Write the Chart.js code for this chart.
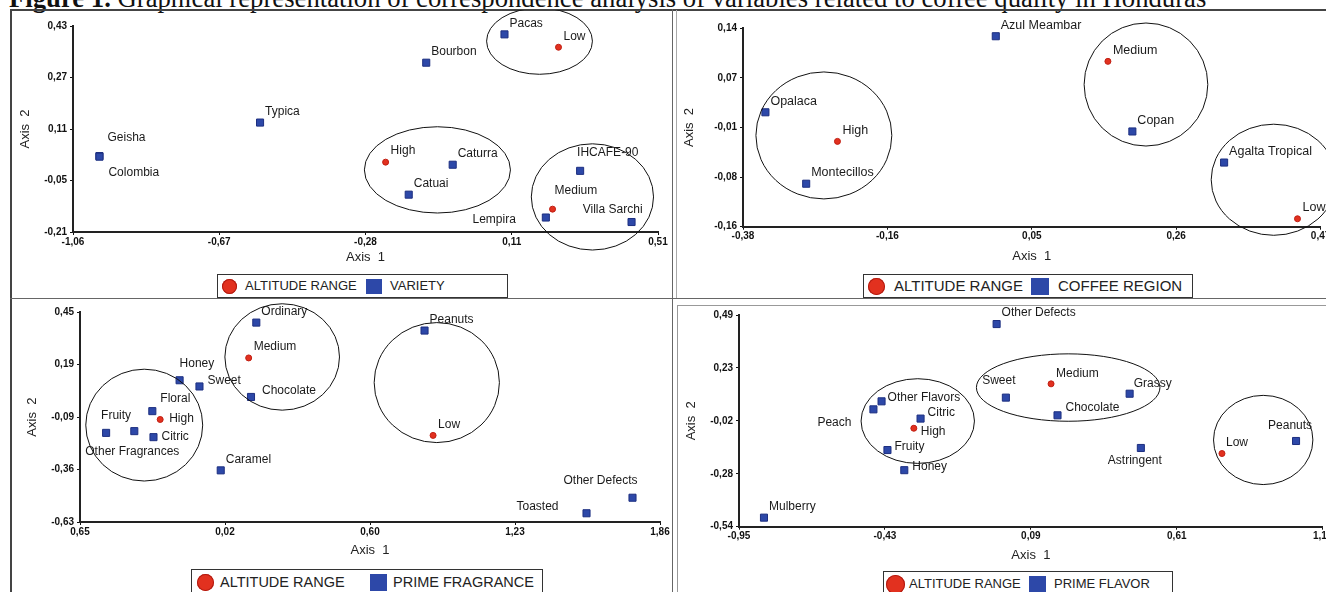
<!DOCTYPE html>
<html>
<head>
<meta charset="utf-8">
<title>Correspondence analysis - coffee quality in Honduras</title>
<script src="https://cdn.jsdelivr.net/npm/chart.js@4.4.1/dist/chart.umd.min.js"></script>
<style>
  html, body { margin: 0; padding: 0; width: 1326px; height: 592px; overflow: hidden; background: #fff; }
  body { position: relative; font-family: "Liberation Sans", Arial, sans-serif; }
  .title { position: absolute; left: 9px; top: -15px; font: 26.7px/26.7px "Liberation Serif", "Times New Roman", serif; white-space: nowrap; color: #111; }
  .line { position: absolute; }
  .panel { position: absolute; }
  .legend { position: absolute; border: 1px solid #333; background: #fff; box-sizing: border-box; color: #222; }
  .legend span { position: absolute; white-space: nowrap; }
</style>
</head>
<body>
<div class="title"><b>Figure 1.</b> Graphical representation of correspondence analysis of variables related to coffee quality in Honduras</div>
<script>
// ---- data ----

// Panel 1: altitude range x variety
const p1XTicks = ['-1,06', '-0,67', '-0,28', '0,11', '0,51'];
const p1YTicks = ['-0,21', '-0,05', '0,11', '0,27', '0,43'];
const p1AltNames = ['High', 'Medium', 'Low'];
const p1AltX = [-0.221, 0.227, 0.243];
const p1AltY = [0.007, -0.139, 0.364];
const p1VarNames = ['Geisha', 'Colombia', 'Typica', 'Bourbon', 'Pacas', 'Caturra', 'Catuai', 'IHCAFE-90', 'Lempira', 'Villa Sarchi'];
const p1VarX = [-0.989, -0.989, -0.558, -0.112, 0.098, -0.041, -0.159, 0.301, 0.209, 0.439];
const p1VarY = [0.026, 0.024, 0.130, 0.316, 0.404, -0.001, -0.094, -0.020, -0.165, -0.179];
const p1EllX = [0.192, -0.082, 0.334];
const p1EllY = [0.383, -0.017, -0.101];
const p1EllRx = [0.142, 0.196, 0.164];
const p1EllRy = [0.103, 0.134, 0.165];

// Panel 2: altitude range x coffee region
const p2XTicks = ['-0,38', '-0,16', '0,05', '0,26', '0,47'];
const p2YTicks = ['-0,16', '-0,08', '-0,01', '0,07', '0,14'];
const p2AltNames = ['High', 'Medium', 'Low'];
const p2AltX = [-0.241, 0.157, 0.436];
const p2AltY = [-0.031, 0.090, -0.148];
const p2RegNames = ['Azul Meambar', 'Opalaca', 'Montecillos', 'Copan', 'Agalta Tropical'];
const p2RegX = [-0.008, -0.347, -0.287, 0.193, 0.328];
const p2RegY = [0.128, 0.013, -0.095, -0.016, -0.063];
const p2EllX = [-0.261, 0.213, 0.401];
const p2EllY = [-0.022, 0.055, -0.089];
const p2EllRx = [0.100, 0.091, 0.092];
const p2EllRy = [0.096, 0.093, 0.084];

// Panel 3: altitude range x prime fragrance
const p3XTicks = ['0,65', '0,02', '0,60', '1,23', '1,86'];
const p3YTicks = ['-0,63', '-0,36', '-0,09', '0,19', '0,45'];
const p3AltNames = ['High', 'Medium', 'Low'];
const p3AltX = [-0.303, 0.080, 0.878];
const p3AltY = [-0.102, 0.215, -0.184];
const p3FraNames = ['Ordinary', 'Chocolate', 'Peanuts', 'Honey', 'Sweet', 'Floral', 'Citric', 'Fruity', 'Other Fragrances', 'Caramel', 'Other Defects', 'Toasted'];
const p3FraX = [0.113, 0.090, 0.841, -0.219, -0.133, -0.337, -0.332, -0.537, -0.415, -0.041, 1.741, 1.542];
const p3FraY = [0.397, 0.014, 0.356, 0.100, 0.068, -0.059, -0.193, -0.171, -0.162, -0.364, -0.505, -0.585];
const p3EllX = [-0.372, 0.225, 0.894];
const p3EllY = [-0.131, 0.220, 0.088];
const p3EllRx = [0.253, 0.248, 0.271];
const p3EllRy = [0.288, 0.274, 0.309];

// Panel 4: altitude range x prime flavor
const p4XTicks = ['-0,95', '-0,43', '0,09', '0,61', '1,13'];
const p4YTicks = ['-0,54', '-0,28', '-0,02', '0,23', '0,49'];
const p4AltNames = ['High', 'Medium', 'Low'];
const p4AltX = [-0.327, 0.162, 0.771];
const p4AltY = [-0.061, 0.155, -0.184];
const p4FlaNames = ['Other Defects', 'Sweet', 'Grassy', 'Chocolate', 'Astringent', 'Peanuts', 'Other Flavors', 'Peach', 'Citric', 'Fruity', 'Honey', 'Mulberry'];
const p4FlaX = [-0.032, 0.001, 0.442, 0.185, 0.482, 1.035, -0.442, -0.471, -0.303, -0.421, -0.361, -0.861];
const p4FlaY = [0.446, 0.088, 0.107, 0.002, -0.157, -0.123, 0.070, 0.031, -0.014, -0.167, -0.265, -0.496];
const p4EllX = [-0.313, 0.223, 0.918];
const p4EllY = [-0.026, 0.137, -0.118];
const p4EllRx = [0.202, 0.327, 0.177];
const p4EllRy = [0.206, 0.164, 0.217];

// ---- styling ----
const FONT = '"Liberation Sans", Arial, sans-serif';
const RED = '#e2311f';
const BLUE = '#2d48a8';

// label placement: [dx, dy, align] in px from the point
const p1Labels = {
  'Geisha': [8, -18], 'Colombia': [9, 16], 'Low': [5, -11], 'High': [5, -11],
  'IHCAFE-90': [-3, -18], 'Medium': [2, -18], 'Lempira': [-30, 2, 'right'], 'Villa Sarchi': [11, -12, 'right']
};
const p2Labels = { 'High': [5, -10.5] };
const p3Labels = {
  'Chocolate': [11, -6], 'Honey': [0, -17], 'Sweet': [8, -6], 'Floral': [8, -12], 'High': [9, -1],
  'Citric': [8, 0], 'Fruity': [-5, -17], 'Other Fragrances': [-2, 21, 'center'],
  'Other Defects': [5, -17, 'right'], 'Toasted': [-28, -7, 'right']
};
const p4Labels = {
  'Sweet': [-7, -17, 'center'], 'Grassy': [4, -10], 'Chocolate': [8, -8], 'Astringent': [-6, 13, 'center'],
  'Low': [4, -11], 'Peanuts': [-6, -15, 'center'], 'Other Flavors': [6, -4], 'Peach': [-22, 13, 'right'],
  'Citric': [7, -6], 'High': [7, 3], 'Fruity': [7, -3], 'Honey': [8, -3], 'Medium': [5, -10]
};

// frame lines of the figure: x, y, w, h, colour
const frame = [
  [10, 9, 1316, 1.5, '#444'], [10, 9, 1.5, 583, '#444'],
  [10, 297.5, 1316, 1.5, '#666'], [671.5, 9, 1.5, 583, '#666'],
  [676, 10, 1, 288, '#aaa'], [677, 304.5, 649, 1, '#999'], [677, 304.5, 1, 288, '#999']
];
frame.forEach(f => {
  const d = document.createElement('div');
  d.className = 'line';
  d.style.cssText = `left:${f[0]}px;top:${f[1]}px;width:${f[2]}px;height:${f[3]}px;background:${f[4]}`;
  document.body.appendChild(d);
});

function ellipses(cx, cy, rx, ry) {
  return {
    id: 'ellipses',
    afterDatasetsDraw(chart) {
      const { ctx, scales: { x, y } } = chart;
      ctx.save();
      ctx.strokeStyle = '#111';
      ctx.lineWidth = 1;
      for (let i = 0; i < cx.length; i++) {
        const px = x.getPixelForValue(cx[i]);
        const py = y.getPixelForValue(cy[i]);
        const w = Math.abs(x.getPixelForValue(cx[i] + rx[i]) - px);
        const h = Math.abs(y.getPixelForValue(cy[i] + ry[i]) - py);
        ctx.beginPath();
        ctx.ellipse(px, py, w, h, 0, 0, Math.PI * 2);
        ctx.stroke();
      }
      ctx.restore();
    }
  };
}

function pointLabels(size, offsets) {
  return {
    id: 'pointLabels',
    afterDatasetsDraw(chart) {
      const ctx = chart.ctx;
      ctx.save();
      ctx.font = size + 'px ' + FONT;
      ctx.fillStyle = '#1a1a1a';
      ctx.textBaseline = 'middle';
      chart.data.datasets.forEach((ds, di) => {
        chart.getDatasetMeta(di).data.forEach((pt, i) => {
          const name = ds.names[i];
          const o = offsets[name] || [5, -11];
          ctx.textAlign = o[2] || 'left';
          ctx.fillText(name, pt.x + o[0], pt.y + o[1]);
        });
      });
      ctx.restore();
    }
  };
}

function fixedTicks(labels) {
  return scale => {
    const step = (scale.max - scale.min) / (labels.length - 1);
    scale.ticks = labels.map((_, i) => ({ value: scale.min + i * step }));
  };
}

function makeLegend(l, panelName) {
  const box = document.createElement('div');
  box.className = 'legend';
  box.style.cssText = `left:${l.box[0]}px;top:${l.box[1]}px;width:${l.box[2]}px;height:${l.box[3]}px;font-size:${l.font}px`;
  const cy = l.box[3] / 2 - 1;
  box.innerHTML =
    `<span style="left:${l.dot[0]}px;top:${cy - l.dot[1] / 2}px;width:${l.dot[1]}px;height:${l.dot[1]}px;border-radius:50%;background:${RED};box-shadow:inset 0 0 0 1px #b01a10"></span>` +
    `<span style="left:${l.t1}px;top:${cy - l.font * 0.58}px">ALTITUDE RANGE</span>` +
    `<span style="left:${l.sq[0]}px;top:${cy - l.sq[2] / 2}px;width:${l.sq[1]}px;height:${l.sq[2]}px;background:${BLUE}"></span>` +
    `<span style="left:${l.t2}px;top:${cy - l.font * 0.58}px">${panelName}</span>`;
  document.body.appendChild(box);
}

function makePanel(p) {
  const [cl, ct, cw, ch] = p.box;
  const [al, at, ar, ab] = p.area;
  const wrap = document.createElement('div');
  wrap.className = 'panel';
  wrap.style.cssText = `left:${cl}px;top:${ct}px;width:${cw}px;height:${ch}px`;
  const cv = document.createElement('canvas');
  cv.width = cw;
  cv.height = ch;
  wrap.appendChild(cv);
  document.body.appendChild(wrap);

  const lh = 13 * 1.2;
  const tickFont = { family: FONT, size: 10, weight: 'bold' };
  const titleFont = { family: FONT, size: 13, lineHeight: 1.2 };

  new Chart(cv, {
    type: 'scatter',
    data: {
      datasets: [
        {
          names: p.altNames,
          data: p.altX.map((v, i) => ({ x: v, y: p.altY[i] })),
          pointStyle: 'circle', pointRadius: 3, backgroundColor: RED, borderColor: '#c01e12', borderWidth: 1, clip: false
        },
        {
          names: p.catNames,
          data: p.catX.map((v, i) => ({ x: v, y: p.catY[i] })),
          pointStyle: 'rect', pointRadius: 5, backgroundColor: BLUE, borderColor: '#1d2f80', borderWidth: 1, clip: false
        }
      ]
    },
    options: {
      responsive: false,
      animation: false,
      events: [],
      layout: { padding: { left: 0, top: at - ct, right: cl + cw - ar, bottom: 0 } },
      plugins: { legend: { display: false }, tooltip: { enabled: false } },
      scales: {
        x: {
          type: 'linear', min: p.xRange[0], max: p.xRange[1],
          afterBuildTicks: fixedTicks(p.xTicks),
          afterFit: s => { s.height = ct + ch - ab; },
          ticks: { callback: (v, i) => p.xTicks[i], font: tickFont, color: '#111', padding: 1, maxRotation: 0, autoSkip: false },
          grid: { drawOnChartArea: false, drawTicks: true, tickLength: 3, color: '#111', lineWidth: 1 },
          border: { color: '#222', width: 2 },
          title: { display: true, text: 'Axis  1', font: titleFont, color: '#222',
                   padding: { top: 0, bottom: ct + ch - p.xTitleY - lh / 2 } }
        },
        y: {
          type: 'linear', min: p.yRange[0], max: p.yRange[1],
          afterBuildTicks: fixedTicks(p.yTicks),
          afterFit: s => { s.width = al - cl; },
          ticks: { callback: (v, i) => p.yTicks[i], font: tickFont, color: '#111', padding: 3, autoSkip: false },
          grid: { drawOnChartArea: false, drawTicks: true, tickLength: 3, color: '#111', lineWidth: 1 },
          border: { color: '#222', width: 2 },
          title: { display: true, text: 'Axis  2', font: titleFont, color: '#222',
                   padding: { top: p.yTitleX - cl - lh / 2, bottom: 0 } }
        }
      }
    },
    plugins: [ellipses(p.ell[0], p.ell[1], p.ell[2], p.ell[3]), pointLabels(p.labelSize, p.labels)]
  });
}

makePanel({
  box: [12, 10, 658, 262], area: [73, 26, 658, 232], xTitleY: 257, yTitleX: 25,
  xRange: [-1.06, 0.51], yRange: [-0.21, 0.43], xTicks: p1XTicks, yTicks: p1YTicks,
  altNames: p1AltNames, altX: p1AltX, altY: p1AltY,
  catNames: p1VarNames, catX: p1VarX, catY: p1VarY,
  ell: [p1EllX, p1EllY, p1EllRx, p1EllRy], labelSize: 12, labels: p1Labels
});
makePanel({
  box: [678, 10, 667, 262], area: [743, 28.3, 1320.6, 226.7], xTitleY: 256, yTitleX: 689,
  xRange: [-0.38, 0.47], yRange: [-0.16, 0.14], xTicks: p2XTicks, yTicks: p2YTicks,
  altNames: p2AltNames, altX: p2AltX, altY: p2AltY,
  catNames: p2RegNames, catX: p2RegX, catY: p2RegY,
  ell: [p2EllX, p2EllY, p2EllRx, p2EllRy], labelSize: 12.5, labels: p2Labels
});
makePanel({
  box: [12, 300, 662, 266], area: [80, 312.3, 660, 522], xTitleY: 550, yTitleX: 32,
  xRange: [-0.65, 1.86], yRange: [-0.63, 0.45], xTicks: p3XTicks, yTicks: p3YTicks,
  altNames: p3AltNames, altX: p3AltX, altY: p3AltY,
  catNames: p3FraNames, catX: p3FraX, catY: p3FraY,
  ell: [p3EllX, p3EllY, p3EllRx, p3EllRy], labelSize: 12, labels: p3Labels
});
makePanel({
  box: [678, 306, 667, 262], area: [739, 314.3, 1322.7, 526.7], xTitleY: 555, yTitleX: 691,
  xRange: [-0.95, 1.13], yRange: [-0.54, 0.49], xTicks: p4XTicks, yTicks: p4YTicks,
  altNames: p4AltNames, altX: p4AltX, altY: p4AltY,
  catNames: p4FlaNames, catX: p4FlaX, catY: p4FlaY,
  ell: [p4EllX, p4EllY, p4EllRx, p4EllRy], labelSize: 12, labels: p4Labels
});

// legends (positions relative to each legend box)
makeLegend({ box: [217, 274, 291, 24], font: 13, dot: [4, 15], t1: 27, sq: [148, 16, 15], t2: 172 }, 'VARIETY');
makeLegend({ box: [863, 274, 330, 24], font: 15, dot: [4, 17], t1: 30, sq: [167, 18, 17], t2: 194 }, 'COFFEE REGION');
makeLegend({ box: [191, 569, 352, 26], font: 14.5, dot: [5, 17], t1: 28, sq: [178, 17, 17], t2: 201 }, 'PRIME FRAGRANCE');
makeLegend({ box: [883, 571, 290, 26], font: 13, dot: [2, 19], t1: 25, sq: [145, 17, 17], t2: 170 }, 'PRIME FLAVOR');
</script>
</body>
</html>
